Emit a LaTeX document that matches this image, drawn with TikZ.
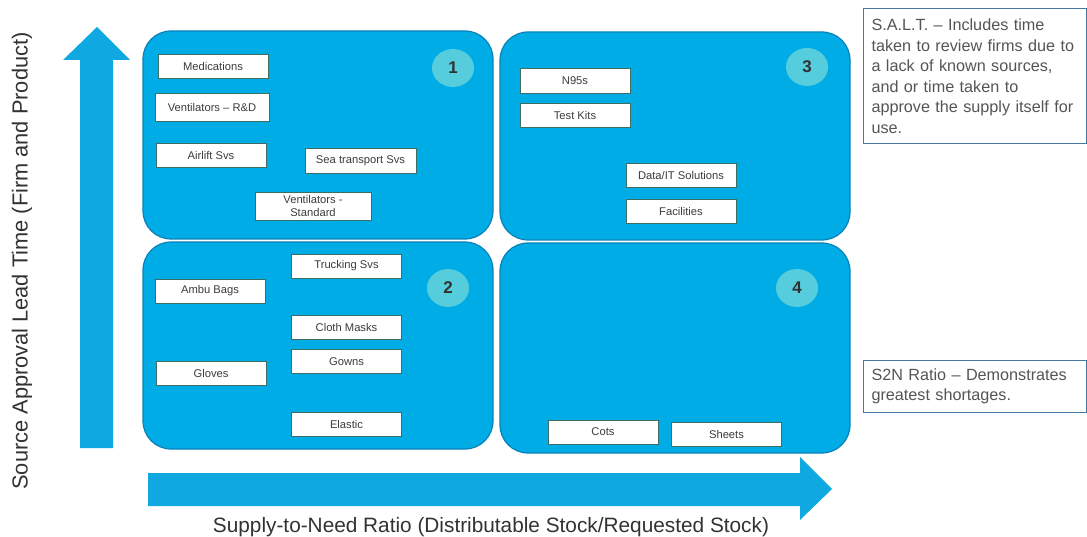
\documentclass[tikz,border=0pt]{standalone}
\usepackage{fontspec}
\setmainfont{Liberation Sans}
\usetikzlibrary{shapes.geometric}
\definecolor{quadfill}{RGB}{0,172,230}
\definecolor{quadline}{RGB}{10,130,185}
\definecolor{arrowfill}{RGB}{15,168,225}
\definecolor{circfill}{RGB}{85,205,220}
\definecolor{itemline}{RGB}{60,110,100}
\definecolor{itemtext}{RGB}{60,60,60}
\definecolor{noteline}{RGB}{70,120,165}
\definecolor{notetext}{RGB}{85,85,85}
\definecolor{labeltext}{RGB}{50,50,50}
\tikzset{
  quad/.style={fill=quadfill, draw=quadline, line width=1.2pt, rounded corners=28pt},
  axisarrow/.style={fill=arrowfill, draw=none},
  item/.style={draw=itemline, fill=white, line width=0.8pt, minimum width=110pt, minimum height=24pt,
    inner sep=1pt, align=center, text=itemtext, font=\fontsize{11.2}{11.5}\selectfont},
  badge/.style={ellipse, fill=circfill, draw=none, minimum width=42pt, minimum height=38pt,
    inner sep=0pt, text=labeltext, font=\fontsize{17}{17}\selectfont\bfseries},
  note/.style={draw=noteline, line width=1pt, fill=white, anchor=north west, align=left,
    text width=207pt, inner xsep=8pt, text=notetext, font=\fontsize{16.2}{20.5}\selectfont},
  axislabel/.style={text=labeltext, inner sep=0pt}
}
\begin{document}
\begin{tikzpicture}[x=1pt,y=-1pt]
\useasboundingbox (0,0) rectangle (1087,537);
% axes
\fill[axisarrow] (80,448) -- (80,60) -- (63,60) -- (97,27) -- (130,60) -- (113,60) -- (113,448) -- cycle;
\fill[axisarrow] (148,473) -- (800,473) -- (800,457) -- (832,489) -- (800,520) -- (800,506) -- (148,506) -- cycle;
\node[axislabel, rotate=90, font=\fontsize{21.8}{23}\selectfont] (ylab) at (22,261) {Source Approval Lead Time (Firm and Product)};
\node[axislabel, font=\fontsize{20.8}{22}\selectfont] (xlab) at (491,527) {Supply-to-Need Ratio (Distributable Stock/Requested Stock)};
% quadrants
\draw[quad] (143,31) rectangle (493,239);
\draw[quad] (143,242) rectangle (493,449);
\draw[quad] (500,32) rectangle (850,240);
\draw[quad] (500,243) rectangle (850,453);
% badges
\node[badge] (b1) at (453,68) {1};
\node[badge] (b2) at (448,288) {2};
\node[badge] (b3) at (807,67) {3};
\node[badge] (b4) at (797,288) {4};
% quadrant 1
\node[item] (med) at (213,66) {Medications};
\node[item, minimum width=114pt, minimum height=28pt] (vrd) at (212,107) {Ventilators -- R\&D};
\node[item] (air) at (211,155) {Airlift Svs};
\node[item, minimum width=111pt, minimum height=25pt] (sea) at (360.5,160.5) {Sea transport Svs};
\node[item, minimum width=116pt, minimum height=28pt, font=\fontsize{11.2}{12.5}\selectfont] (vst) at (313,206) {Ventilators -\\Standard};
% quadrant 2
\node[item] (truck) at (346.5,266) {Trucking Svs};
\node[item] (ambu) at (210,291) {Ambu Bags};
\node[item] (cloth) at (346.5,327.5) {Cloth Masks};
\node[item] (gown) at (346.5,361.5) {Gowns};
\node[item] (glove) at (211,373.5) {Gloves};
\node[item] (elas) at (346.5,424.5) {Elastic};
% quadrant 3
\node[item, minimum height=25pt] (n95) at (575,80.5) {N95s};
\node[item] (test) at (575,115) {Test Kits};
\node[item] (data) at (681,175) {Data/IT Solutions};
\node[item] (fac) at (681,211) {Facilities};
% quadrant 4
\node[item] (cots) at (603,432) {Cots};
\node[item] (sheet) at (726.5,434) {Sheets};
% notes
\node[note, minimum height=135pt] (salt) at (863,8) {S.A.L.T. -- Includes time\\taken to review firms due to\\a lack of known sources,\\and or time taken to\\approve the supply itself for\\use.};
\node[note, minimum height=52pt] (s2n) at (863,360) {S2N Ratio -- Demonstrates\\greatest shortages.};
\end{tikzpicture}
\end{document}
